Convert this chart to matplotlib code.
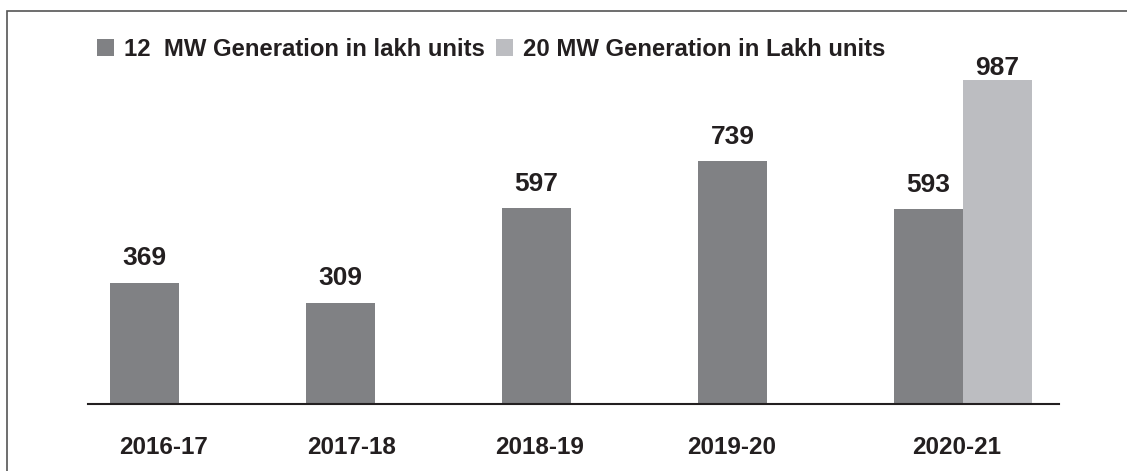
import numpy as np
import matplotlib.pyplot as plt
from matplotlib.patches import Rectangle

plt.rcParams['font.family'] = ['Liberation Sans', 'DejaVu Sans']
plt.rcParams['font.weight'] = 'bold'

years = ['2016-17', '2017-18', '2018-19', '2019-20', '2020-21']
gen_12mw = [369, 309, 597, 739, 593]
gen_20mw = [None, None, None, None, 987]

dark = '#808184'
light = '#bcbdc1'
txt = '#231f20'

fig = plt.figure(figsize=(11.27, 4.71), dpi=100)
ax = fig.add_axes([0.0781, 0.1423, 0.8616, 0.7728])

x = np.arange(len(years))
w = 0.352

b1 = ax.bar(x - w/2, gen_12mw, w, color=dark, label='12  MW Generation in lakh units')
idx = [i for i, v in enumerate(gen_20mw) if v is not None]
b2 = ax.bar(x[idx] + w/2, [gen_20mw[i] for i in idx], w, color=light,
            label='20 MW Generation in Lakh units')

for r, v in zip(b1, gen_12mw):
    ax.annotate(str(v), (r.get_x() + r.get_width()/2, v), xytext=(0, 9),
                textcoords='offset points', ha='center', va='bottom',
                fontsize=19, fontweight='bold', color=txt)
for r, i in zip(b2, idx):
    ax.annotate(str(gen_20mw[i]), (r.get_x() + r.get_width()/2, gen_20mw[i]),
                xytext=(0, 0), textcoords='offset points', ha='center', va='bottom',
                fontsize=19, fontweight='bold', color=txt)

ax.set_xlim(-0.464, 4.49)
ax.set_ylim(0, 1109)

# labels sit a bit left of the group centres in the original
lab_shift = [-0.08, -0.12, -0.16, -0.18, -0.03]
ax.set_xticks(x + np.array(lab_shift))
ax.set_xticklabels(years, fontsize=17.5, fontweight='bold', color=txt)
ax.tick_params(axis='x', length=0, pad=23)
ax.set_yticks([])
for s in ['top', 'right', 'left']:
    ax.spines[s].set_visible(False)
ax.spines['bottom'].set_color(txt)
ax.spines['bottom'].set_linewidth(1.5)

leg = fig.legend(loc='upper left', bbox_to_anchor=(97/1127, 0.919), ncol=2,
                 frameon=False, fontsize=17.2, handlelength=0.71, handleheight=0.71,
                 handletextpad=0.4, columnspacing=0.5, borderpad=0, borderaxespad=0)
for t in leg.get_texts():
    t.set_color(txt)
    t.set_fontweight('bold')

fig.add_artist(Rectangle((7/1127, -0.1), 1.2, 1 - 11/471 + 0.1,
                         transform=fig.transFigure, fill=False,
                         edgecolor='#555555', linewidth=1.2, clip_on=False))

fig.savefig('out.png', dpi=100)
